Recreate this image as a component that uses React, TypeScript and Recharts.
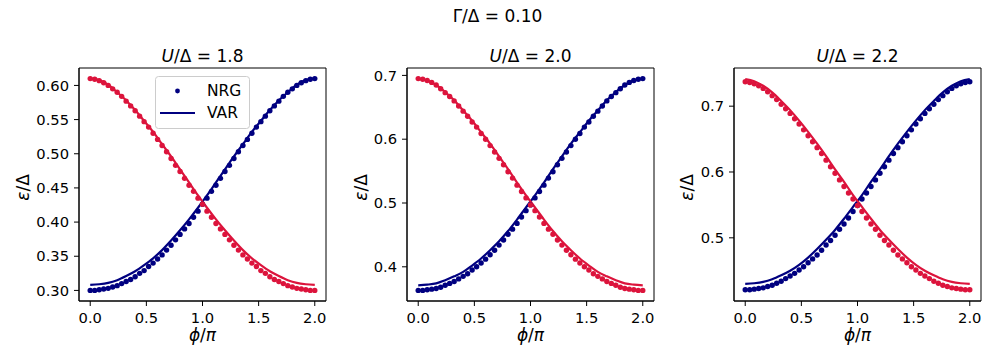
import { ComposedChart, Scatter, Line, XAxis, YAxis, Legend, ReferenceArea } from "recharts";

// phi / pi sample points
const PHI_NRG = [
  0.0, 0.04, 0.08, 0.12, 0.16, 0.2, 0.24, 0.28, 0.32, 0.36,
  0.4, 0.44, 0.48, 0.52, 0.56, 0.6, 0.64, 0.68, 0.72, 0.76,
  0.8, 0.84, 0.88, 0.92, 0.96, 1.0, 1.04, 1.08, 1.12, 1.16,
  1.2, 1.24, 1.28, 1.32, 1.36, 1.4, 1.44, 1.48, 1.52, 1.56,
  1.6, 1.64, 1.68, 1.72, 1.76, 1.8, 1.84, 1.88, 1.92, 1.96, 2.0,
];
const PHI_VAR = [
  0.0, 0.08, 0.16, 0.24, 0.32, 0.4, 0.48, 0.56, 0.64, 0.72, 0.8, 0.88, 0.96,
  1.04, 1.12, 1.2, 1.28, 1.36, 1.44, 1.52, 1.6, 1.68, 1.76, 1.84, 1.92, 2.0,
];

// U/Δ = 1.8
const P1_NRG_BLUE = [
  0.300, 0.300, 0.301, 0.302, 0.303, 0.305, 0.307, 0.310, 0.313, 0.316,
  0.320, 0.325, 0.329, 0.335, 0.340, 0.346, 0.352, 0.359, 0.366, 0.374,
  0.382, 0.390, 0.398, 0.407, 0.416, 0.426, 0.435, 0.445, 0.454, 0.464,
  0.474, 0.483, 0.493, 0.503, 0.512, 0.521, 0.530, 0.539, 0.547, 0.555,
  0.563, 0.570, 0.577, 0.584, 0.590, 0.595, 0.600, 0.604, 0.607, 0.609, 0.610,
];
const P1_NRG_RED = [
  0.610, 0.609, 0.607, 0.604, 0.600, 0.595, 0.590, 0.584, 0.577, 0.570,
  0.563, 0.555, 0.547, 0.539, 0.530, 0.521, 0.512, 0.503, 0.493, 0.483,
  0.474, 0.464, 0.454, 0.445, 0.435, 0.426, 0.416, 0.407, 0.398, 0.390,
  0.382, 0.374, 0.366, 0.359, 0.352, 0.346, 0.340, 0.335, 0.329, 0.325,
  0.320, 0.316, 0.313, 0.310, 0.307, 0.305, 0.303, 0.302, 0.301, 0.300, 0.300,
];
const P1_VAR_BLUE = [
  0.308, 0.309, 0.311, 0.315, 0.321, 0.328, 0.337, 0.347, 0.359, 0.373, 0.388, 0.404, 0.421,
  0.439, 0.458, 0.477, 0.496, 0.514, 0.532, 0.548, 0.564, 0.578, 0.590, 0.601, 0.608, 0.610,
];
const P1_VAR_RED = [
  0.610, 0.608, 0.601, 0.590, 0.578, 0.564, 0.548, 0.532, 0.514, 0.496, 0.477, 0.458, 0.439,
  0.421, 0.404, 0.388, 0.373, 0.359, 0.347, 0.337, 0.328, 0.321, 0.315, 0.311, 0.309, 0.308,
];

// U/Δ = 2.0
const P2_NRG_BLUE = [
  0.363, 0.363, 0.364, 0.365, 0.366, 0.368, 0.371, 0.374, 0.377, 0.381,
  0.385, 0.389, 0.395, 0.400, 0.406, 0.412, 0.419, 0.426, 0.434, 0.442,
  0.451, 0.459, 0.468, 0.478, 0.488, 0.497, 0.508, 0.518, 0.528, 0.539,
  0.549, 0.560, 0.570, 0.580, 0.590, 0.600, 0.609, 0.619, 0.627, 0.636,
  0.644, 0.652, 0.660, 0.667, 0.673, 0.679, 0.685, 0.689, 0.692, 0.694, 0.695,
];
const P2_NRG_RED = [
  0.695, 0.694, 0.692, 0.689, 0.685, 0.679, 0.673, 0.667, 0.660, 0.652,
  0.644, 0.636, 0.627, 0.619, 0.609, 0.600, 0.590, 0.580, 0.570, 0.560,
  0.549, 0.539, 0.528, 0.518, 0.508, 0.497, 0.488, 0.478, 0.468, 0.459,
  0.451, 0.442, 0.434, 0.426, 0.419, 0.412, 0.406, 0.400, 0.395, 0.389,
  0.385, 0.381, 0.377, 0.374, 0.371, 0.368, 0.366, 0.365, 0.364, 0.363, 0.363,
];
const P2_VAR_BLUE = [
  0.371, 0.372, 0.374, 0.379, 0.385, 0.392, 0.402, 0.413, 0.426, 0.440, 0.456, 0.474, 0.493,
  0.512, 0.532, 0.553, 0.573, 0.593, 0.611, 0.629, 0.645, 0.661, 0.674, 0.685, 0.692, 0.695,
];
const P2_VAR_RED = [
  0.695, 0.692, 0.685, 0.674, 0.661, 0.645, 0.629, 0.611, 0.593, 0.573, 0.553, 0.532, 0.512,
  0.493, 0.474, 0.456, 0.440, 0.426, 0.413, 0.402, 0.392, 0.385, 0.379, 0.374, 0.372, 0.371,
];

// U/Δ = 2.2
const P3_NRG_BLUE = [
  0.421, 0.421, 0.422, 0.423, 0.424, 0.426, 0.428, 0.431, 0.434, 0.438,
  0.442, 0.446, 0.451, 0.456, 0.462, 0.468, 0.474, 0.481, 0.489, 0.496,
  0.504, 0.513, 0.521, 0.530, 0.540, 0.549, 0.559, 0.568, 0.578, 0.588,
  0.598, 0.608, 0.618, 0.628, 0.637, 0.646, 0.655, 0.664, 0.673, 0.681,
  0.689, 0.696, 0.703, 0.710, 0.716, 0.722, 0.727, 0.731, 0.734, 0.736, 0.737,
];
const P3_NRG_RED = [
  0.737, 0.736, 0.734, 0.731, 0.727, 0.722, 0.716, 0.710, 0.703, 0.696,
  0.689, 0.681, 0.673, 0.664, 0.655, 0.646, 0.637, 0.628, 0.618, 0.608,
  0.598, 0.588, 0.578, 0.568, 0.559, 0.549, 0.540, 0.530, 0.521, 0.513,
  0.504, 0.496, 0.489, 0.481, 0.474, 0.468, 0.462, 0.456, 0.451, 0.446,
  0.442, 0.438, 0.434, 0.431, 0.428, 0.426, 0.424, 0.423, 0.422, 0.421, 0.421,
];
const P3_VAR_BLUE = [
  0.430, 0.431, 0.433, 0.437, 0.443, 0.450, 0.459, 0.470, 0.483, 0.497, 0.512, 0.529, 0.547,
  0.565, 0.585, 0.604, 0.624, 0.643, 0.661, 0.678, 0.694, 0.708, 0.721, 0.731, 0.738, 0.741,
];
const P3_VAR_RED = [
  0.741, 0.738, 0.731, 0.721, 0.708, 0.694, 0.678, 0.661, 0.643, 0.624, 0.604, 0.585, 0.565,
  0.547, 0.529, 0.512, 0.497, 0.483, 0.470, 0.459, 0.450, 0.443, 0.437, 0.433, 0.431, 0.430,
];

const X_TICKS = [0, 0.5, 1.0, 1.5, 2.0];
const P1_Y_TICKS = [0.3, 0.35, 0.4, 0.45, 0.5, 0.55, 0.6];
const P2_Y_TICKS = [0.4, 0.5, 0.6, 0.7];
const P3_Y_TICKS = [0.5, 0.6, 0.7];

const NAVY = "#000080";
const CRIMSON = "#dc143c";
const FONT = "'DejaVu Sans', sans-serif";
const X_DOMAIN: [number, number] = [-0.1, 2.1];

const zip = (xs: number[], ys: number[]) => xs.map((x, i) => ({ x, y: ys[i] }));

const dot = (color: string) => (p: any) =>
  <circle cx={p.cx} cy={p.cy} r={2.7} fill={color} />;

function LegendBox() {
  return (
    <svg width={96} height={54} style={{ display: "block" }}>
      <rect x={0.5} y={0.5} width={94} height={52} rx={3} fill="rgba(255,255,255,0.8)" stroke="#cccccc" />
      <circle cx={22.5} cy={15} r={2.4} fill={NAVY} />
      <text x={52} y={15} dominantBaseline="central" fontSize={15.5} fontFamily={FONT}>NRG</text>
      <line x1={5} x2={40} y1={37} y2={37} stroke={NAVY} strokeWidth={2.2} />
      <text x={52} y={37} dominantBaseline="central" fontSize={15.5} fontFamily={FONT}>VAR</text>
    </svg>
  );
}

type PanelProps = {
  left: number;
  u: string;
  nrgBlue: number[];
  nrgRed: number[];
  varBlue: number[];
  varRed: number[];
  domain: [number, number];
  yTicks: number[];
  digits: number;
  yLabelOffset: number;
  legend?: boolean;
};

function Panel(props: PanelProps) {
  const { left, u, domain, yTicks, digits, yLabelOffset, legend } = props;
  const tickStyle = { fontSize: 14.7, fill: "#000", fontFamily: FONT };
  return (
    <div style={{ position: "absolute", left: left - 79, top: 0 }}>
      <ComposedChart width={336} height={363} margin={{ top: 68, right: 10, bottom: 0, left: 0 }}>
        <XAxis
          dataKey="x"
          type="number"
          domain={X_DOMAIN}
          ticks={X_TICKS}
          tickFormatter={(v: number) => v.toFixed(1)}
          height={62}
          tickSize={5}
          tickMargin={7}
          tick={tickStyle}
          axisLine={{ stroke: "#000" }}
          tickLine={{ stroke: "#000" }}
          label={(p: any) => {
            const vb = p.viewBox;
            return (
              <text x={vb.x + vb.width / 2} y={vb.y + 40} textAnchor="middle" fontSize={17} fontFamily={FONT}>
                <tspan fontStyle="italic">ϕ</tspan>/<tspan fontStyle="italic">π</tspan>
              </text>
            );
          }}
        />
        <YAxis
          dataKey="y"
          type="number"
          domain={domain}
          ticks={yTicks}
          tickFormatter={(v: number) => v.toFixed(digits)}
          width={79}
          tickSize={5}
          tickMargin={5}
          tick={tickStyle}
          axisLine={{ stroke: "#000" }}
          tickLine={{ stroke: "#000" }}
          label={(p: any) => {
            const vb = p.viewBox;
            const cx = vb.x + vb.width - yLabelOffset;
            const cy = vb.y + vb.height / 2 + 3;
            return (
              <text
                transform={`translate(${cx},${cy}) rotate(-90)`}
                textAnchor="middle"
                dominantBaseline="central"
                fontSize={17}
                fontFamily={FONT}
              >
                <tspan fontStyle="italic">ε</tspan>/Δ
              </text>
            );
          }}
        />
        {/* axes frame + panel title */}
        <ReferenceArea
          x1={X_DOMAIN[0]}
          x2={X_DOMAIN[1]}
          y1={domain[0]}
          y2={domain[1]}
          fill="none"
          stroke="#000"
          strokeWidth={1}
          ifOverflow="visible"
          label={(p: any) => {
            const vb = p.viewBox;
            return (
              <text x={vb.x + vb.width / 2} y={vb.y - 6.5} textAnchor="middle" fontSize={17} fontFamily={FONT}>
                <tspan fontStyle="italic">U</tspan>/Δ = {u}
              </text>
            );
          }}
        />
        <Scatter data={zip(PHI_NRG, props.nrgBlue)} dataKey="y" shape={dot(NAVY)} isAnimationActive={false} />
        <Line data={zip(PHI_VAR, props.varBlue)} dataKey="y" type="monotone" stroke={NAVY} strokeWidth={2.2} dot={false} activeDot={false} isAnimationActive={false} />
        <Scatter data={zip(PHI_NRG, props.nrgRed)} dataKey="y" shape={dot(CRIMSON)} isAnimationActive={false} />
        <Line data={zip(PHI_VAR, props.varRed)} dataKey="y" type="monotone" stroke={CRIMSON} strokeWidth={2.2} dot={false} activeDot={false} isAnimationActive={false} />
        {legend && (
          <Legend
            layout="horizontal"
            verticalAlign="middle"
            align="center"
            content={() => <LegendBox />}
            wrapperStyle={{ left: 155, top: 76, width: 96, height: 54 }}
          />
        )}
      </ComposedChart>
    </div>
  );
}

export default function App() {
  return (
    <div style={{ position: "absolute", left: 0, top: 0, width: 996, height: 363, background: "#fff" }}>
      <svg width={996} height={30} style={{ position: "absolute", left: 0, top: 0 }}>
        <text x={497.5} y={21.5} textAnchor="middle" fontSize={17} fontFamily={FONT}>Γ/Δ = 0.10</text>
      </svg>
      <Panel left={79} u="1.8" nrgBlue={P1_NRG_BLUE} nrgRed={P1_NRG_RED} varBlue={P1_VAR_BLUE} varRed={P1_VAR_RED}
        domain={[0.2845, 0.6255]} yTicks={P1_Y_TICKS} digits={2} yLabelOffset={56} legend />
      <Panel left={407} u="2.0" nrgBlue={P2_NRG_BLUE} nrgRed={P2_NRG_RED} varBlue={P2_VAR_BLUE} varRed={P2_VAR_RED}
        domain={[0.3464, 0.7116]} yTicks={P2_Y_TICKS} digits={1} yLabelOffset={46.5} />
      <Panel left={734} u="2.2" nrgBlue={P3_NRG_BLUE} nrgRed={P3_NRG_RED} varBlue={P3_VAR_BLUE} varRed={P3_VAR_RED}
        domain={[0.404, 0.758]} yTicks={P3_Y_TICKS} digits={1} yLabelOffset={47} />
    </div>
  );
}
